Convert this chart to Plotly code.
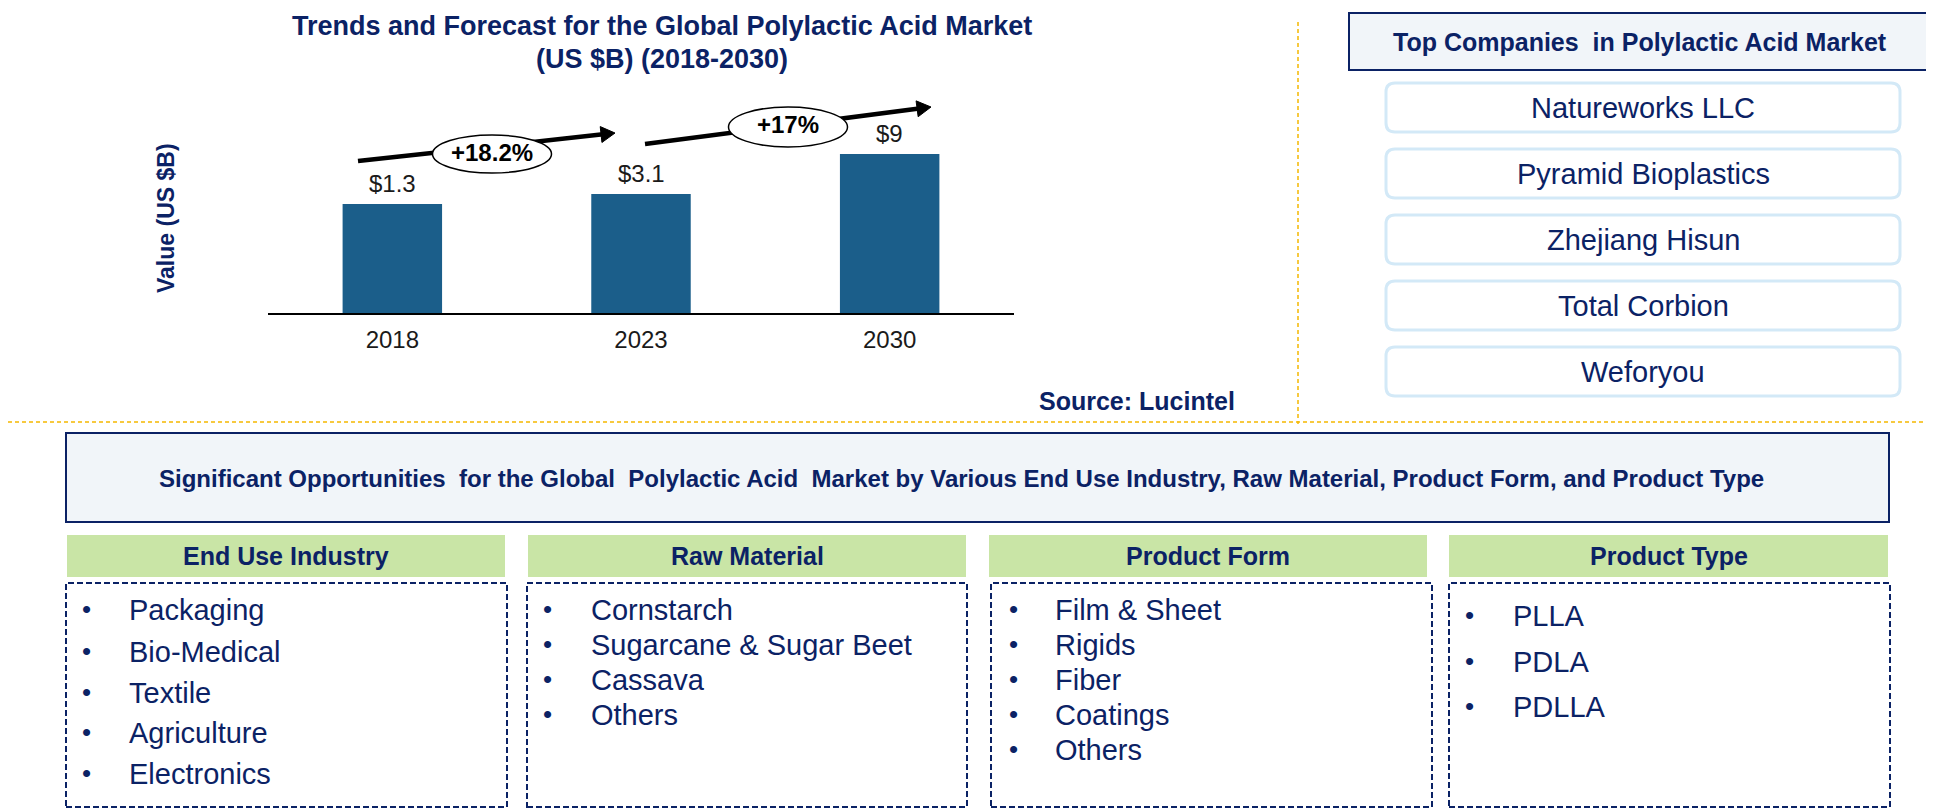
import plotly.graph_objects as go

W, H = 1934, 810
OFF = 8  # the page body margin pushes the figure 8px right and down
FW, FH = W - OFF, H - OFF
NAVY = "#0B2265"
FONT = "Liberation Sans, Arial, sans-serif"

# chart data
years = ["2018", "2023", "2030"]
value_labels = ["$1.3", "$3.1", "$9"]
bar_heights = [109, 119, 159]  # schematic bar heights as drawn in the reference
growth_labels = ["+18.2%", "+17%"]

companies = ["Natureworks LLC", "Pyramid Bioplastics", "Zhejiang Hisun",
             "Total Corbion", "Weforyou"]

segment_titles = ["End Use Industry", "Raw Material", "Product Form", "Product Type"]
end_use = ["Packaging", "Bio-Medical", "Textile", "Agriculture", "Electronics"]
raw_material = ["Cornstarch", "Sugarcane & Sugar Beet", "Cassava", "Others"]
product_form = ["Film & Sheet", "Rigids", "Fiber", "Coatings", "Others"]
product_type = ["PLLA", "PDLA", "PDLLA"]


def px(x):
    return (x - OFF) / FW


def py(y):
    return 1 - (y - OFF) / FH


fig = go.Figure()

fig.add_trace(go.Bar(
    x=years, y=bar_heights, width=0.4,
    marker=dict(color="#1B5E8A", line=dict(width=0)),
    hoverinfo="skip",
))

shapes = []
annotations = []


def text(x, y, s, size, bold=False, color=NAVY, anchor="center", **kw):
    if bold:
        s = "<b>" + s + "</b>"
    annotations.append(dict(
        x=px(x), y=py(y), xref="paper", yref="paper", text=s, showarrow=False,
        xanchor=anchor, yanchor="middle",
        font=dict(family=FONT, size=size, color=color), **kw))


def rect(x0, y0, x1, y1, fill="rgba(0,0,0,0)", line="black", width=1, dash="solid"):
    shapes.append(dict(type="rect", xref="paper", yref="paper",
                       x0=px(x0), x1=px(x1), y0=py(y1), y1=py(y0),
                       fillcolor=fill, line=dict(color=line, width=width, dash=dash)))


def round_rect(x0, y0, x1, y1, r, line, width):
    rx, ry = r / FW, r / FH
    a, b, c, d = px(x0), px(x1), py(y1), py(y0)
    path = (f"M{a+rx},{d} L{b-rx},{d} Q{b},{d} {b},{d-ry} L{b},{c+ry} "
            f"Q{b},{c} {b-rx},{c} L{a+rx},{c} Q{a},{c} {a},{c+ry} "
            f"L{a},{d-ry} Q{a},{d} {a+rx},{d} Z")
    shapes.append(dict(type="path", xref="paper", yref="paper", path=path,
                       fillcolor="white", line=dict(color=line, width=width)))


def arrow(x0, y0, x1, y1, head_len=14, head_w=8):
    dx, dy = x1 - x0, y1 - y0
    n = (dx ** 2 + dy ** 2) ** 0.5
    ux, uy = dx / n, dy / n
    bx, by = x1 - ux * head_len, y1 - uy * head_len
    shapes.append(dict(type="line", xref="paper", yref="paper",
                       x0=px(x0), y0=py(y0), x1=px(bx + ux * 2), y1=py(by + uy * 2),
                       line=dict(color="black", width=4.5)))
    p1 = (bx - uy * head_w, by + ux * head_w)
    p2 = (bx + uy * head_w, by - ux * head_w)
    path = (f"M{px(x1)},{py(y1)} L{px(p1[0])},{py(p1[1])} "
            f"L{px(p2[0])},{py(p2[1])} Z")
    shapes.append(dict(type="path", xref="paper", yref="paper", path=path,
                       fillcolor="black", line=dict(color="black", width=1)))


def ellipse(cx, cy, w, h, label):
    shapes.append(dict(type="circle", xref="paper", yref="paper",
                       x0=px(cx - w / 2), x1=px(cx + w / 2),
                       y0=py(cy + h / 2), y1=py(cy - h / 2),
                       fillcolor="white", line=dict(color="black", width=1.5)))
    text(cx, cy - 2, label, 24, bold=True, color="black")


# chart title and axis title
text(662, 26, "Trends and Forecast for the Global Polylactic Acid Market", 27, bold=True)
text(662, 59, "(US $B) (2018-2030)", 27, bold=True)
text(166, 218, "Value (US $B)", 23, bold=True, textangle=-90)
text(1237, 401, "Source: Lucintel", 25, bold=True, anchor="right")

# value labels over bars
for i, (h, lab) in enumerate(zip(bar_heights, value_labels)):
    annotations.append(dict(x=i, y=h, xref="x", yref="y", text=lab, showarrow=False,
                            yanchor="bottom", yshift=5,
                            font=dict(family=FONT, size=24, color="#1a1a1a")))

# growth arrows
arrow(358, 161, 615, 133)
ellipse(492, 154, 119, 38, growth_labels[0])
arrow(645, 144, 931, 107)
ellipse(788, 127, 119, 40, growth_labels[1])

# separators
shapes.append(dict(type="line", xref="paper", yref="paper", x0=px(1298), x1=px(1298),
                   y0=py(22), y1=py(424), line=dict(color="#F5B800", width=1.5, dash="4px,3px")))
shapes.append(dict(type="line", xref="paper", yref="paper", x0=0, x1=1,
                   y0=py(422), y1=py(422), line=dict(color="#F5B800", width=1.5, dash="4px,3px")))

# top companies panel
rect(1349, 13, 1931, 70, fill="#F1F5F9", line=NAVY, width=2)
text(1640, 42, "Top Companies  in Polylactic Acid Market", 25, bold=True)
box_tops = [83, 149, 215, 281, 347]
for top, name in zip(box_tops, companies):
    round_rect(1386, top, 1900, top + 49, 9, "#D3E9F7", 3)
    text(1643, top + 25, name, 29)

# opportunities panel
rect(66, 433, 1889, 522, fill="#F1F5F9", line=NAVY, width=2)
text(961, 478, "Significant Opportunities  for the Global  Polylactic Acid  Market by "
     "Various End Use Industry, Raw Material, Product Form, and Product Type", 24, bold=True)

col_x = [(67, 505), (528, 966), (989, 1427), (1449, 1888)]
box_x = [(66, 507), (527, 967), (991, 1432), (1449, 1890)]
lists = [end_use, raw_material, product_form, product_type]
bullet_x = [86, 547, 1013, 1469]
text_x = [127, 589, 1053, 1511]
row_y = [
    [610, 652, 693, 733, 774],
    [610, 645, 680, 715],
    [610, 645, 680, 715, 750],
    [616, 662, 707],
]
for i in range(4):
    rect(col_x[i][0], 535, col_x[i][1], 577, fill="#C9E5A6", line="#C9E5A6", width=0)
    text((col_x[i][0] + col_x[i][1]) / 2, 556, segment_titles[i], 25, bold=True)
    rect(box_x[i][0], 583, box_x[i][1], 807, line=NAVY, width=2, dash="6px,3px")
    for item, yy in zip(lists[i], row_y[i]):
        text(bullet_x[i], yy - 1, "•", 26, anchor="center")
        text(text_x[i], yy, item, 29, anchor="left")

fig.update_layout(
    width=FW, height=FH,
    margin=dict(l=0, r=0, t=0, b=0),
    paper_bgcolor="white", plot_bgcolor="white",
    showlegend=False,
    shapes=shapes, annotations=annotations,
    xaxis=dict(domain=[px(268), px(1014)], range=[-0.5, 2.5], type="category",
               showline=True, linecolor="black", linewidth=1.5, showgrid=False,
               ticks="", ticklabelstandoff=4,
               tickfont=dict(family=FONT, size=24, color="#1a1a1a"), fixedrange=True),
    yaxis=dict(domain=[py(313), py(113)], range=[0, 200], visible=False, fixedrange=True),
)

fig.write_html("out.html")
